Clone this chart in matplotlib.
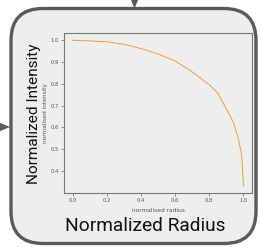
import matplotlib
matplotlib.use("Agg")
import matplotlib.pyplot as plt
from matplotlib.patches import FancyBboxPatch, Polygon

# Data
radius = [0.0, 0.1, 0.2, 0.3, 0.4, 0.5, 0.6, 0.7, 0.8, 0.85, 0.9, 0.94, 0.97, 0.99, 1.0]
intensity = [1.0, 0.997, 0.993, 0.982, 0.962, 0.937, 0.905, 0.855, 0.796, 0.757, 0.685, 0.625, 0.55, 0.47, 0.332]
xticks = [0.0, 0.2, 0.4, 0.6, 0.8, 1.0]
yticks = [0.4, 0.5, 0.6, 0.7, 0.8, 0.9, 1.0]

W, H = 260, 247
fig = plt.figure(figsize=(W / 100, H / 100), dpi=100)
fig.patch.set_facecolor("white")

# Background canvas in pixel coordinates
bg = fig.add_axes([0, 0, 1, 1])
bg.set_xlim(0, W)
bg.set_ylim(H, 0)
bg.axis("off")

box = FancyBboxPatch((11, 8.5), 245, 235, boxstyle="round,pad=0,rounding_size=32",
                     facecolor="#eeeeee", edgecolor="#5a5a5a", linewidth=2.4)
bg.add_patch(box)
bg.add_patch(Polygon([(130.5, -1), (138.5, -1), (134.5, 8.5)], closed=True,
                     facecolor="#5a5a5a", edgecolor="none"))
bg.add_patch(Polygon([(-1, 122.5), (-1, 131.5), (10, 127)], closed=True,
                     facecolor="#5a5a5a", edgecolor="none"))

bg.text(145, 226, "Normalized Radius", family="Roboto", fontsize=13.8,
        ha="center", va="center", color="#111111")
bg.text(34, 113.5, "Normalized Intensity", family="Roboto", fontsize=11.1,
        ha="center", va="center", rotation=90, color="#111111")

# Inner plot
ax = fig.add_axes([64 / W, 1 - 193 / H, (252 - 64) / W, (193 - 33) / H])
ax.set_facecolor("#eeeeee")
ax.plot(radius, intensity, color="#f59a3c", linewidth=0.7)
ax.set_xticks(xticks)
ax.set_yticks(yticks)
ax.set_xticklabels([f"{t:.1f}" for t in xticks])
ax.set_yticklabels([f"{t:.1f}" for t in yticks])
ax.tick_params(labelsize=3.8, length=2, width=0.5, pad=1.5, colors="#666666",
               labelcolor="#555555")
for s in ax.spines.values():
    s.set_color("#777777")
    s.set_linewidth(0.8)
ax.set_xlabel("normalised radius", fontsize=4.2, color="#555555")
ax.set_ylabel("normalised intensity", fontsize=4.2, color="#555555")
ax.xaxis.set_label_coords(0.5, -0.094)
ax.yaxis.set_label_coords(-0.085, 0.5)

fig.savefig("out.png", dpi=100)
